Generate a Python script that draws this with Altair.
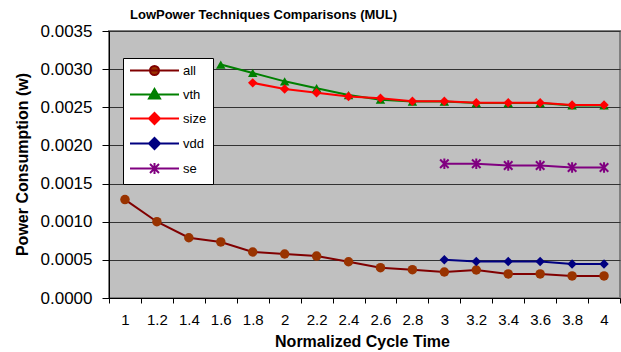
import altair as alt
import pandas as pd

cycle = ["1", "1.2", "1.4", "1.6", "1.8", "2", "2.2", "2.4", "2.6", "2.8",
         "3", "3.2", "3.4", "3.6", "3.8", "4"]
all_vals = [0.00129, 0.00100, 0.00079, 0.000735, 0.000603, 0.000577, 0.00055, 0.000475,
            0.000398, 0.000371, 0.000341, 0.000367, 0.000315, 0.000315, 0.000289, 0.000289]
vth_vals = [None, None, None, 0.00306, 0.00295, 0.00284, 0.00275, 0.00266,
            0.00260, 0.002575, 0.002575, 0.002555, 0.002555, 0.002555, 0.002525, 0.002525]
size_vals = [None, None, None, None, 0.00282, 0.00274, 0.00269, 0.00264,
             0.00262, 0.00258, 0.00258, 0.00256, 0.00256, 0.00256, 0.00253, 0.00253]
vdd_vals = [None] * 10 + [0.000501, 0.00048, 0.00048, 0.00048, 0.000445, 0.000445]
se_vals = [None] * 10 + [0.00176, 0.00176, 0.001737, 0.001737, 0.001711, 0.001711]

series_names = ["all", "vth", "size", "vdd", "se"]
line_colors = ["#800000", "#008000", "#FF0000", "#000080", "#800080"]
marker_colors = ["#993300", "#008000", "#FF0000", "#000080", "#800080"]
y_ticks = [0, 0.0005, 0.001, 0.0015, 0.002, 0.0025, 0.003, 0.0035]

ASTER = "M-0.9,-0.9L0.9,0.9M-0.9,0.9L0.9,-0.9M0,-1.1L0,1.1"
shapes = ["circle", "triangle-up", "diamond", "diamond", ASTER]

rows = []
for name, vals in zip(series_names, [all_vals, vth_vals, size_vals, vdd_vals, se_vals]):
    for c, v in zip(cycle, vals):
        if v is not None:
            rows.append({"cycle": c, "series": name, "power": v})
df = pd.DataFrame(rows)

FONT = "Liberation Sans"

LINE = "M-4.9,0H4.9"
leg_paths = {
    "all": LINE + "M-0.9,0A0.9,0.9 0 1,0 0.9,0A0.9,0.9 0 1,0 -0.9,0Z",
    "vth": LINE + "M0,-1.1L1.1,0.8L-1.1,0.8Z",
    "size": LINE + "M0,-1.1L1.1,0L0,1.1L-1.1,0Z",
    "vdd": LINE + "M0,-1.1L1.1,0L0,1.1L-1.1,0Z",
    "se": LINE + ASTER,
}
sym_expr = " : ".join(f"datum.value === '{k}' ? '{v}'" for k, v in leg_paths.items()) + " : 'circle'"
fill_expr = " : ".join(f"datum.value === '{k}' ? '{c}'" for k, c in zip(series_names, marker_colors)) + " : 'black'"

x_enc = alt.X(
    "cycle:N", sort=cycle,
    scale=alt.Scale(type="band", domain=cycle, paddingInner=0, paddingOuter=0),
    axis=alt.Axis(
        title="Normalized Cycle Time", labelAngle=0, tickBand="extent", tickSize=5,
        tickColor="black", domainColor="black", labelFontSize=15, labelPadding=9,
        labelFont=FONT, labelColor="black", titleFont=FONT, titleFontSize=16,
        titleFontWeight="bold", titleColor="black", titleX=253, titleY=43,
        titleBaseline="middle", titleAlign="center", grid=False,
    ),
)
y_enc = alt.Y(
    "power:Q",
    scale=alt.Scale(domain=[0, 0.0035], nice=False),
    axis=alt.Axis(
        title="Power Consumption (w)", values=y_ticks, format=".4f", grid=True,
        gridColor="#333333", gridWidth=1, tickSize=7, tickColor="black",
        domainColor="black", labelFontSize=17, labelPadding=10, labelFont=FONT,
        labelColor="black", titleFont=FONT, titleFontSize=16, titleFontWeight="bold",
        titleColor="black", titleX=-87, titleY=133, titleAngle=270,
        titleBaseline="middle", titleAlign="center",
    ),
)

lines = alt.Chart(df).mark_line(strokeWidth=2).encode(
    x=x_enc, y=y_enc,
    stroke=alt.Stroke(
        "series:N", scale=alt.Scale(domain=series_names, range=line_colors),
        legend=alt.Legend(
            title=None, orient="none", legendX=14, legendY=27, fillColor="white",
            strokeColor="black", padding=6, rowPadding=6, symbolSize=100,
            symbolType=alt.ExprRef(expr=sym_expr),
            symbolFillColor=alt.ExprRef(expr=fill_expr), symbolStrokeWidth=2,
            symbolOffset=19, labelOffset=22, labelFontSize=13, labelFont=FONT,
            labelColor="black",
        ),
    ),
)

layers = [lines]
for name, shp, col in zip(series_names, shapes, marker_colors):
    base = alt.Chart(df).transform_filter(alt.datum.series == name)
    if name == "se":
        mk = base.mark_point(shape=shp, size=90, filled=False, stroke=col, strokeWidth=2, opacity=1)
    else:
        mk = base.mark_point(shape=shp, size=90, filled=True, fill=col, strokeWidth=0, opacity=1)
    layers.append(mk.encode(x=x_enc, y=y_enc))

chart = alt.layer(*layers).properties(
    width=511, height=267,
    background="white",
    title=alt.Title("LowPower Techniques Comparisons (MUL)", font=FONT, fontSize=13,
                    fontWeight="bold", anchor="start", frame="group", dx=21, dy=4,
                    color="black"),
    autosize=alt.AutoSizeParams(type="none"),
    padding={"left": 109, "top": 31, "right": 1, "bottom": 54},
).configure_view(fill="#C0C0C0", stroke="#808080", strokeWidth=2)

chart.save("out.html", embed_options={"renderer": "svg", "actions": False})
